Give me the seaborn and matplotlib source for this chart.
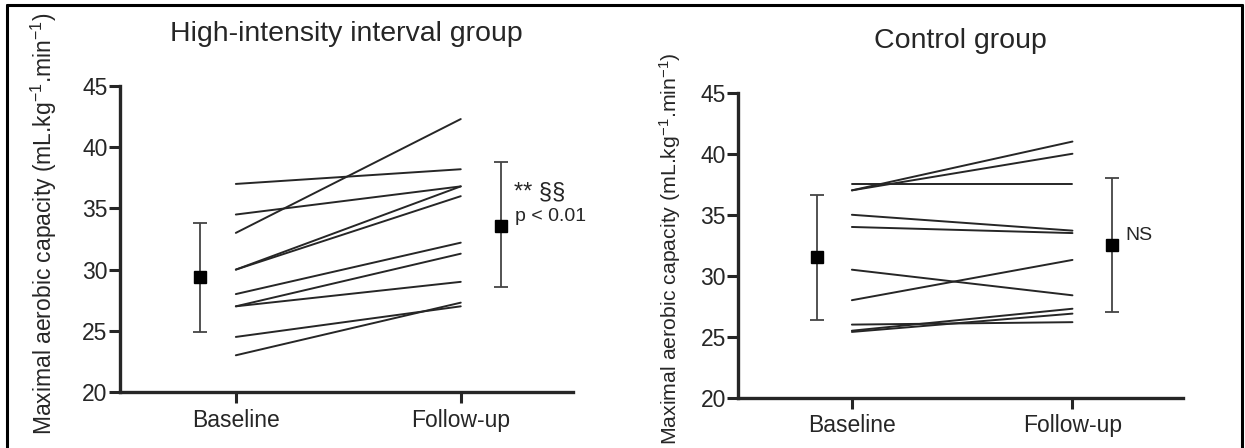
import pandas as pd
import numpy as np
import matplotlib
matplotlib.use('Agg')
import matplotlib.pyplot as plt
import seaborn as sns
from matplotlib.lines import Line2D

# ---- data ----
time_labels = ['Baseline', 'Follow-up']

hiit_baseline = [37.0, 34.5, 33.0, 30.0, 30.0, 28.0, 27.0, 27.0, 24.5, 23.0]
hiit_followup = [38.2, 36.8, 42.3, 36.8, 36.0, 32.2, 31.3, 29.0, 27.0, 27.3]
hiit_mean = [29.4, 33.6]
hiit_low = [24.9, 28.6]
hiit_high = [33.8, 38.8]

ctrl_baseline = [37.5, 37.0, 37.0, 35.0, 34.0, 30.5, 28.0, 26.0, 25.5, 25.4]
ctrl_followup = [37.5, 41.0, 40.0, 33.7, 33.5, 28.4, 31.3, 26.2, 27.3, 26.9]
ctrl_mean = [31.5, 32.5]
ctrl_low = [26.4, 27.0]
ctrl_high = [36.6, 38.0]

sns.set_style('ticks')
plt.rcParams['font.family'] = ['Liberation Sans', 'DejaVu Sans']
plt.rcParams['mathtext.fontset'] = 'custom'
plt.rcParams['mathtext.rm'] = 'Liberation Sans'
plt.rcParams['mathtext.it'] = 'Liberation Sans:italic'

YLABEL = r'Maximal aerobic capacity (mL.kg$^{\mathrm{-1}}$.min$^{\mathrm{-1}}$)'


def long_table(base, follow):
    n = len(base)
    return pd.DataFrame({
        'subject': list(range(n)) * 2,
        'time': [0] * n + [1] * n,
        'vo2': base + follow,
    })


def draw_panel(ax, base, follow, mean, low, high, title, label_size):
    df = long_table(base, follow)
    sns.lineplot(data=df, x='time', y='vo2', units='subject', estimator=None,
                 color='#262626', linewidth=1.4, ax=ax, legend=False)
    # mean +/- sd markers, shifted outside the paired lines
    xm = [-0.16, 1.18]
    yerr = [np.array(mean) - np.array(low), np.array(high) - np.array(mean)]
    ax.errorbar(xm, mean, yerr=yerr, fmt='s', color='black', ecolor='#444444',
                elinewidth=1.3, capsize=5, capthick=1.3, markersize=8.5)
    ax.set_xlim(-0.515, 1.5)
    ax.set_ylim(20, 45)
    ax.set_yticks([20, 25, 30, 35, 40, 45])
    ax.set_xticks([0, 1])
    ax.set_xticklabels(time_labels)
    ax.set_xlabel('')
    ax.set_ylabel(YLABEL, fontsize=label_size)
    ax.tick_params(axis='both', direction='out', length=8, width=2.2,
                   labelsize=16.5)
    ax.tick_params(axis='y', pad=1)
    ax.tick_params(axis='x', pad=4)
    sns.despine(ax=ax)
    for s in ['left', 'bottom']:
        ax.spines[s].set_linewidth(2.4)
    ax.text(0.5, 1.17, title, transform=ax.transAxes, ha='center',
            va='center', fontsize=20.5)


fig = plt.figure(figsize=(12.45, 4.48), dpi=100)
ax1 = fig.add_axes([0.0964, 0.125, 0.364, 0.683])
ax2 = fig.add_axes([0.593, 0.112, 0.357, 0.681])

draw_panel(ax1, hiit_baseline, hiit_followup, hiit_mean, hiit_low, hiit_high,
           'High-intensity interval group', 16.5)
draw_panel(ax2, ctrl_baseline, ctrl_followup, ctrl_mean, ctrl_low, ctrl_high,
           'Control group', 15.3)

ax1.yaxis.set_label_coords(-0.135, 0.55)
ax2.yaxis.set_label_coords(-0.125, 0.49)

ax1.text(1.236, 36.3, '** §§', fontsize=17, va='center', ha='left')
ax1.text(1.24, 34.3, 'p < 0.01', fontsize=14, va='center', ha='left')
ax2.text(1.24, 33.3, 'NS', fontsize=14, va='center', ha='left')

# frame around the figure (top, left, right)
fig.add_artist(Line2D([0.0056, 0.9976], [0.989, 0.989], color='black', lw=2.2))
fig.add_artist(Line2D([0.0056, 0.0056], [0.0, 0.989], color='black', lw=2.2))
fig.add_artist(Line2D([0.9976, 0.9976], [0.0, 0.989], color='black', lw=2.2))

fig.savefig('out.png', dpi=100)
